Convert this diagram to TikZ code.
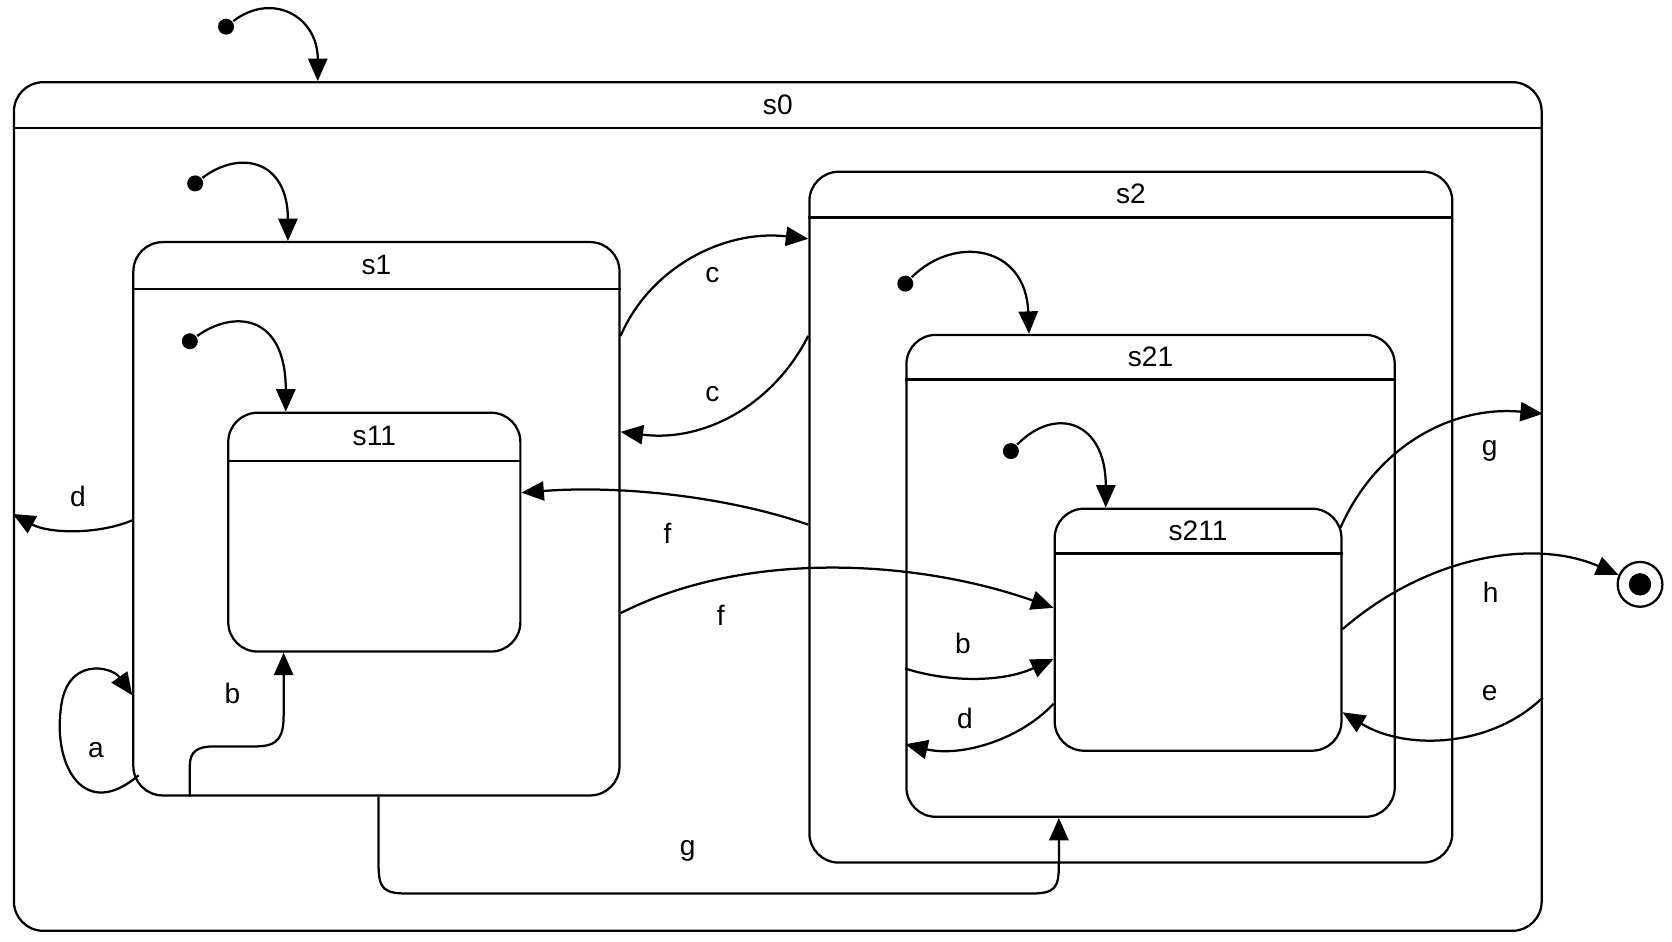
\documentclass[tikz,border=0pt]{standalone}
\usepackage{fontspec}
\setmainfont{Liberation Sans}
\usetikzlibrary{arrows.meta,calc}

\begin{document}
\begin{tikzpicture}[
        x=0.02cm, y=-0.02cm,
        line width=1.2pt,
        every node/.append style={black, font=\fontsize{15}{18}\selectfont},
        state/.style={draw, rounded corners=0.55cm, inner sep=0pt, anchor=north west},
        init/.style={circle, fill, inner sep=0pt, minimum size=0.3cm},
        trans/.style={-{Triangle[length=0.42cm,width=0.36cm]}}
    ]
    \useasboundingbox (0,0) rectangle (1568,883);
    % states
    \node[state, minimum width=28.66cm, minimum height=15.92cm] (s0) at (12,76) {};
    \node[state, minimum width=9.12cm, minimum height=10.38cm] (s1) at (124,226) {};
    \node[state, minimum width=5.48cm, minimum height=4.48cm] (s11) at (213,386) {};
    \node[state, minimum width=12.06cm, minimum height=12.96cm] (s2) at (758,160) {};
    \node[state, minimum width=9.16cm, minimum height=9.04cm] (s21) at (849,313) {};
    \node[state, minimum width=5.38cm, minimum height=4.54cm] (s211) at (988,476) {};
    \foreach \s/\h/\t in {s0/44/s0, s1/45/s1, s11/46/s11, s2/44/s2, s21/43/s21, s211/43/s211}{
        \draw ($(\s.north west)+(0,\h)$) -- ($(\s.north east)+(0,\h)$);
        \node (\s-label) at ($(\s.north)+(0,\h/2)$) {\t};
    }
    % final state
    \node[circle, draw, minimum size=0.84cm] (fin) at (1538,548) {};
    \node[circle, fill, minimum size=0.42cm, inner sep=0pt] (fin-dot) at (fin) {};
    % initial pseudo states
    \node[init] (i0) at (212,25) {};
    \node[init] (i1) at (183,172) {};
    \node[init] (i11) at (178,320) {};
    \node[init] (i21) at (849,266) {};
    \node[init] (i211) at (948,423) {};
    \draw[trans] (i0) .. controls (255,-8) and (298,15) .. (s0.north -| 298,0);
    \draw[trans] (i1) .. controls (225,140) and (270,150) .. (s1.north -| 270,0);
    \draw[trans] (i11) .. controls (220,290) and (268,295) .. (s11.north -| 268,0);
    \draw[trans] (i21) .. controls (895,220) and (962,230) .. (s21.north -| 965,0);
    \draw[trans] (i211) .. controls (990,380) and (1037,395) .. (s211.north -| 1037,0);
    % transitions
    \draw[trans] (s1.east |- 0,315) .. controls (610,250) and (680,215) .. (s2.west |- 0,224);
    \draw[trans] (s2.west |- 0,315) .. controls (725,380) and (660,415) .. (s1.east |- 0,405);
    \draw[trans] (s1.west |- 0,488) .. controls (90,502) and (45,500) .. (s0.west |- 0,482);
    \draw[trans] (s2.west |- 0,492) .. controls (680,465) and (580,455) .. (s11.east |- 0,462);
    \draw[trans] (s1.east |- 0,575) .. controls (700,515) and (860,525) .. (s211.west |- 0,570);
    \draw[trans] (1257,495) .. controls (1290,420) and (1360,380) .. (s0.east |- 0,388);
    \draw[trans] (s211.east |- 0,590) .. controls (1340,520) and (1440,505) .. (fin);
    \draw[trans] (s0.east |- 0,654) .. controls (1400,700) and (1320,705) .. (s211.east |- 0,668);
    \draw[trans] (s21.west |- 0,627) .. controls (890,640) and (940,640) .. (s211.west |- 0,618);
    \draw[trans] (s211.west |- 0,660) .. controls (955,695) and (900,710) .. (s21.west |- 0,698);
    \draw[trans] (130,727) .. controls (80,770) and (50,720) .. (57,665)
        .. controls (62,615) and (105,625) .. (s1.west |- 0,652);
    \draw[trans] (s1.south -| 178,0) -- (178,718) .. controls (178,705) and (185,700) .. (200,700)
        -- (240,700) .. controls (262,700) and (266,690) .. (266,670) -- (s11.south -| 266,0);
    \draw[trans] (s1.south -| 355,0) -- (355,810) .. controls (355,835) and (360,838) .. (385,838)
        -- (965,838) .. controls (990,838) and (993,833) .. (993,810) -- (s21.south -| 993,0);
    % labels
    \node (lc1) at (668,258) {c};
    \node (lc2) at (668,370) {c};
    \node (ld1) at (73,466) {d};
    \node (lf1) at (626,500) {f};
    \node (lf2) at (676,577) {f};
    \node (lg1) at (1397,423) {g};
    \node (lh) at (1398,555) {h};
    \node (le) at (1397,650) {e};
    \node (lb1) at (903,603) {b};
    \node (ld2) at (905,674) {d};
    \node (la) at (90,703) {a};
    \node (lb2) at (218,650) {b};
    \node (lg2) at (645,798) {g};
\end{tikzpicture}
\end{document}
